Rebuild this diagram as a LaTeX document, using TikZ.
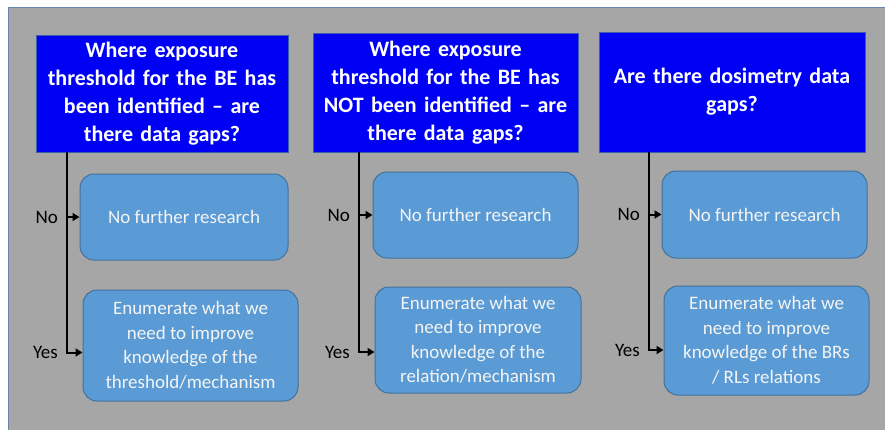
\documentclass[tikz,border=0pt]{standalone}
\usepackage{fontspec}
\setmainfont{Carlito}
\usetikzlibrary{arrows.meta}
\definecolor{panelgray}{HTML}{A6A6A6}
\definecolor{panelborder}{HTML}{6A86AC}
\definecolor{headblue}{HTML}{0000F5}
\definecolor{headborder}{HTML}{3A5FA8}
\definecolor{lightblue}{HTML}{5B9BD5}
\definecolor{lightborder}{HTML}{41719C}
\definecolor{boxtext}{HTML}{F4F4F4}
\tikzset{
  header/.style={draw=headborder, line width=1pt, fill=headblue, text=white,
    font=\fontsize{22}{28}\selectfont\bfseries, align=center, inner sep=4pt},
  outcome/.style={draw=lightborder, line width=1pt, fill=lightblue, text=boxtext,
    rounded corners=14pt, font=\fontsize{19}{24.5}\selectfont, align=center, inner sep=3pt},
  conn/.style={line width=2pt, black},
  arr/.style={conn, -{Triangle[length=7pt,width=8pt]}},
  lab/.style={font=\fontsize{19}{23}\selectfont, text=black, inner sep=0pt}
}
\begin{document}
\begin{tikzpicture}[x=1pt,y=-1pt]
\useasboundingbox (0,0) rectangle (885,429);
\fill[white] (0,0) rectangle (885,429);
\draw[panelborder, fill=panelgray, line width=1pt] (8,7) rectangle (886,430);

% headers
\node[header, minimum width=252pt, minimum height=117pt, text width=240pt] (h1) at (162,94)
  {Where exposure\\threshold for the BE has\\been identified – are\\there data gaps?};
\node[header, minimum width=265pt, minimum height=119pt, text width=255pt] (h2) at (445.5,92.5)
  {Where exposure\\threshold for the BE has\\NOT been identified – are\\there data gaps?};
\node[header, minimum width=266pt, minimum height=120pt, text width=256pt] (h3) at (732,92)
  {Are there dosimetry data\\gaps?};

% outcome boxes
\node[outcome, minimum width=208pt, minimum height=86pt] (no1) at (184,217) {No further research};
\node[outcome, minimum width=205pt, minimum height=86pt] (no2) at (475.5,215) {No further research};
\node[outcome, minimum width=205pt, minimum height=87pt] (no3) at (764.5,214.5) {No further research};

\node[outcome, minimum width=215pt, minimum height=111pt] (yes1) at (190.5,345.5)
  {Enumerate what we\\need to improve\\knowledge of the\\threshold/mechanism};
\node[outcome, minimum width=206pt, minimum height=106pt] (yes2) at (478,340)
  {Enumerate what we\\need to improve\\knowledge of the\\relation/mechanism};
\node[outcome, minimum width=205pt, minimum height=109pt] (yes3) at (766.5,340.5)
  {Enumerate what we\\need to improve\\knowledge of the BRs\\/ RLs relations};

% branch points
\coordinate (v1) at (67,152);
\coordinate (v2) at (359,152);
\coordinate (v3) at (649,152);

% connectors column 1
\draw[arr] (v1) |- ([yshift=-7pt]yes1.west) coordinate (y1);
\draw[arr] (v1 |- no1.west) coordinate (n1) -- (no1.west);
\node[lab, anchor=east] (lno1) at ([xshift=-9pt]n1) {No};
\node[lab, anchor=east] (lyes1) at ([xshift=-9pt]v1 |- y1) {Yes};

% connectors column 2
\draw[arr] (v2) |- ([yshift=-12pt]yes2.west) coordinate (y2);
\draw[arr] (v2 |- no2.west) coordinate (n2) -- (no2.west);
\node[lab, anchor=east] (lno2) at ([xshift=-9pt]n2) {No};
\node[lab, anchor=east] (lyes2) at ([xshift=-9pt]v2 |- y2) {Yes};

% connectors column 3
\draw[arr] (v3) |- ([yshift=-9.5pt]yes3.west) coordinate (y3);
\draw[arr] (v3 |- no3.west) coordinate (n3) -- (no3.west);
\node[lab, anchor=east] (lno3) at ([xshift=-9pt]n3) {No};
\node[lab, anchor=east] (lyes3) at ([xshift=-9pt]v3 |- y3) {Yes};
\end{tikzpicture}
\end{document}
